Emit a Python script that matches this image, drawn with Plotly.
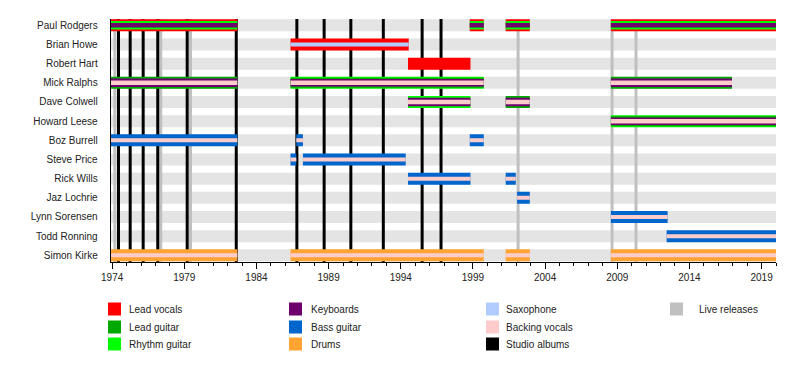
import plotly.graph_objects as go

# ---------------- data ----------------
MEMBERS = ["Paul Rodgers", "Brian Howe", "Robert Hart", "Mick Ralphs", "Dave Colwell",
           "Howard Leese", "Boz Burrell", "Steve Price", "Rick Wills", "Jaz Lochrie",
           "Lynn Sorensen", "Todd Ronning", "Simon Kirke"]

PERIOD_START = 1973.9
PERIOD_END = 2020.0

ROLE_COLORS = {
    "Lead vocals": "#ff0000",
    "Lead guitar": "#00a800",
    "Rhythm guitar": "#00ff00",
    "Keyboards": "#6e006e",
    "Bass guitar": "#0066cc",
    "Drums": "#ffa333",
    "Saxophone": "#b3ccff",
    "Backing vocals": "#ffcccc",
    "Studio albums": "#000000",
    "Live releases": "#c0c0c0",
}

# member, start, end, roles (outermost first)
PERIODS = [
    ("Paul Rodgers", PERIOD_START, 1982.67, ["Lead vocals", "Rhythm guitar", "Keyboards"]),
    ("Paul Rodgers", 1998.78, 1999.75, ["Lead vocals", "Rhythm guitar", "Keyboards"]),
    ("Paul Rodgers", 2001.27, 2002.94, ["Lead vocals", "Rhythm guitar", "Keyboards"]),
    ("Paul Rodgers", 2008.56, PERIOD_END, ["Lead vocals", "Rhythm guitar", "Keyboards"]),
    ("Brian Howe", 1986.36, 1994.55, ["Lead vocals", "Saxophone"]),
    ("Robert Hart", 1994.50, 1998.83, ["Lead vocals"]),
    ("Mick Ralphs", PERIOD_START, 1982.67, ["Lead guitar", "Keyboards", "Backing vocals"]),
    ("Mick Ralphs", 1986.36, 1999.75, ["Rhythm guitar", "Lead guitar", "Keyboards", "Backing vocals"]),
    ("Mick Ralphs", 2008.56, 2016.95, ["Lead guitar", "Keyboards", "Backing vocals"]),
    ("Dave Colwell", 1994.50, 1998.83, ["Rhythm guitar", "Keyboards", "Backing vocals"]),
    ("Dave Colwell", 2001.27, 2002.94, ["Lead guitar", "Keyboards", "Backing vocals"]),
    ("Howard Leese", 2008.56, 2016.95, ["Rhythm guitar", "Lead guitar", "Keyboards", "Backing vocals"]),
    ("Howard Leese", 2016.95, PERIOD_END, ["Rhythm guitar", "Lead guitar", "Keyboards", "Backing vocals"]),
    ("Boz Burrell", PERIOD_START, 1982.67, ["Bass guitar", "Backing vocals"]),
    ("Boz Burrell", 1986.76, 1987.22, ["Bass guitar", "Backing vocals"]),
    ("Boz Burrell", 1998.78, 1999.75, ["Bass guitar", "Backing vocals"]),
    ("Steve Price", 1986.36, 1986.76, ["Bass guitar", "Backing vocals"]),
    ("Steve Price", 1987.22, 1994.34, ["Bass guitar", "Backing vocals"]),
    ("Rick Wills", 1994.50, 1998.83, ["Bass guitar", "Backing vocals"]),
    ("Rick Wills", 2001.27, 2001.97, ["Bass guitar", "Backing vocals"]),
    ("Jaz Lochrie", 2002.06, 2002.94, ["Bass guitar", "Backing vocals"]),
    ("Lynn Sorensen", 2008.56, 2012.49, ["Bass guitar", "Backing vocals"]),
    ("Todd Ronning", 2012.42, PERIOD_END, ["Bass guitar", "Backing vocals"]),
    ("Simon Kirke", PERIOD_START, 1982.67, ["Drums", "Backing vocals"]),
    ("Simon Kirke", 1986.36, 1999.75, ["Drums", "Backing vocals"]),
    ("Simon Kirke", 2001.27, 2002.94, ["Drums", "Backing vocals"]),
    ("Simon Kirke", 2008.56, PERIOD_END, ["Drums", "Backing vocals"]),
]

STUDIO_ALBUMS = [1974.44, 1975.25, 1976.15, 1977.16, 1979.20, 1982.60,
                 1986.80, 1988.69, 1990.54, 1992.79, 1995.48, 1996.79]
LIVE_RELEASES = [1974.19, 1977.37, 1979.43, 2002.13, 2008.64, 2010.30]

YEAR_TICKS = list(range(1974, 2020, 5))

LEGEND_COLUMNS = [
    ["Lead vocals", "Lead guitar", "Rhythm guitar"],
    ["Keyboards", "Bass guitar", "Drums"],
    ["Saxophone", "Backing vocals", "Studio albums"],
    ["Live releases"],
]

# ---------------- styling ----------------
FONT = "Liberation Sans, Arial, sans-serif"
BAR_PX = 12
STRIPE_WIDTHS = {1: [12], 2: [12, 4], 3: [12, 8.5, 4.5], 4: [12, 10, 7.5, 4.5]}
Y_TOP, Y_BOTTOM = -0.33, 12.35
PAGE_OFF = 8            # the html page body margin
W, H = 800 - 2 * PAGE_OFF, 380 - 2 * PAGE_OFF

def px_x(sx):  # screen x -> paper fraction
    return (sx - PAGE_OFF) / W

def px_y(sy):  # screen y -> paper fraction
    return 1 - (sy - PAGE_OFF) / H

row_of = {m: i for i, m in enumerate(MEMBERS)}
fig = go.Figure()

def seg_trace(xs, ys, color, width):
    fig.add_trace(go.Scatter(x=xs, y=ys, mode="lines", line=dict(color=color, width=width),
                             hoverinfo="skip", showlegend=False))

# gray row bands
bx, by = [], []
for i in range(len(MEMBERS)):
    bx += [PERIOD_START, PERIOD_END, None]
    by += [i, i, None]
seg_trace(bx, by, "#e4e4e4", BAR_PX)

# release lines
for vals, role in [(LIVE_RELEASES, "Live releases"), (STUDIO_ALBUMS, "Studio albums")]:
    lx, ly = [], []
    for v in vals:
        lx += [v, v, None]
        ly += [Y_TOP, Y_BOTTOM, None]
    seg_trace(lx, ly, ROLE_COLORS[role], 3)

# member bars, stripe by stripe
groups = {}
for member, s, e, roles in PERIODS:
    widths = STRIPE_WIDTHS[len(roles)]
    for lvl, (role, w) in enumerate(zip(roles, widths)):
        key = (lvl, role, w)
        groups.setdefault(key, ([], []))
        groups[key][0].extend([s, e, None])
        groups[key][1].extend([row_of[member], row_of[member], None])
for key in sorted(groups, key=lambda k: k[0]):
    lvl, role, w = key
    seg_trace(groups[key][0], groups[key][1], ROLE_COLORS[role], w)

# legend (paper coordinates)
shapes, annotations = [], []
col_sq = [108, 289, 486, 670]
col_tx = [127, 309, 504, 697]
row_y = [309, 327, 344]
SQ = 13
for c, col in enumerate(LEGEND_COLUMNS):
    for r, label in enumerate(col):
        x0 = px_x(col_sq[c])
        yc = px_y(row_y[r])
        shapes.append(dict(type="rect", xref="paper", yref="paper",
                           x0=x0, x1=x0 + SQ / W, y0=yc - SQ / 2 / H, y1=yc + SQ / 2 / H,
                           fillcolor=ROLE_COLORS[label], line=dict(width=0)))
        annotations.append(dict(xref="paper", yref="paper", x=px_x(col_tx[c]), y=yc,
                                text=label, showarrow=False, xanchor="left", yanchor="middle",
                                font=dict(family=FONT, size=10, color="#222")))

fig.update_layout(
    template="none",
    width=W, height=H,
    margin=dict(l=0, r=0, t=0, b=0, pad=0, autoexpand=False),
    paper_bgcolor="white", plot_bgcolor="white",
    showlegend=False,
    font=dict(family=FONT, size=10, color="#222"),
    shapes=shapes, annotations=annotations,
    xaxis=dict(domain=[px_x(110.7), px_x(776)], range=[PERIOD_START, PERIOD_END],
               automargin=False,
               showline=True, linecolor="black", linewidth=1,
               ticks="outside", ticklen=6, tickcolor="black", tickwidth=1,
               tickvals=YEAR_TICKS, ticktext=[str(y) for y in YEAR_TICKS],
               minor=dict(dtick=1, tick0=1974, ticks="outside", ticklen=3, tickcolor="black",
                          showgrid=False),
               showgrid=False, zeroline=False,
               tickfont=dict(family=FONT, size=10, color="#222")),
    yaxis=dict(domain=[px_y(262), px_y(19)], range=[Y_BOTTOM, Y_TOP],
               automargin=False,
               showline=True, linecolor="black", linewidth=1,
               tickvals=list(range(len(MEMBERS))), ticktext=MEMBERS,
               ticks="", ticklabelstandoff=10,
               showgrid=False, zeroline=False,
               tickfont=dict(family=FONT, size=10, color="#222")),
)

fig.write_html("out.html")
